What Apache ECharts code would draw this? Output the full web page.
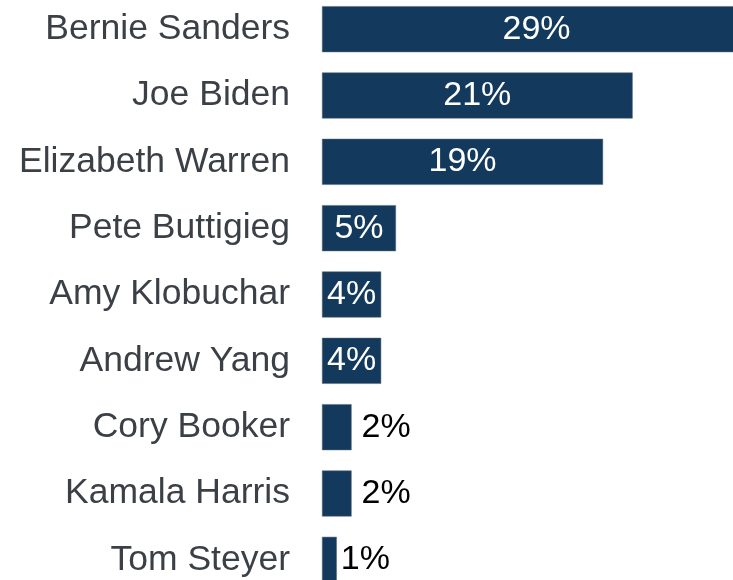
<!DOCTYPE html>
<html>
<head>
<meta charset="utf-8">
<script src="https://cdn.jsdelivr.net/npm/echarts@6/dist/echarts.min.js"></script>
<style>
  html, body { margin: 0; padding: 0; background: #fff; }
  #chart { width: 733px; height: 580px; }
</style>
</head>
<body>
<div id="chart"></div>
<script>
const candidates = ['Bernie Sanders', 'Joe Biden', 'Elizabeth Warren', 'Pete Buttigieg', 'Amy Klobuchar', 'Andrew Yang', 'Cory Booker', 'Kamala Harris', 'Tom Steyer'];
const support = [29, 21, 19, 5, 4, 4, 2, 2, 1];

const barColor = '#133a5d';
const font = 'Liberation Sans, Arial, sans-serif';

const chart = echarts.init(document.getElementById('chart'));

// plot area runs past the right/bottom edges, so the top bar gets clipped like the original
chart.setOption({
  backgroundColor: '#fff',
  animation: false,
  grid: { left: 322, top: -4, width: 429, height: 597, outerBoundsMode: 'none', containLabel: false },
  xAxis: {
    type: 'value',
    min: 0,
    max: 29,
    show: false
  },
  yAxis: {
    type: 'category',
    inverse: true,
    data: candidates,
    axisLine: { show: false },
    axisTick: { show: false },
    splitLine: { show: false },
    axisLabel: {
      margin: 32,
      fontSize: 35.5,
      fontFamily: font,
      color: '#3b3f46'
    }
  },
  series: [{
    type: 'bar',
    barWidth: 46,
    itemStyle: { color: barColor, borderColor: '#5a6672', borderWidth: 0.5 },
    data: support.map(v => ({
      value: v,
      label: v >= 4
        ? { show: true, position: 'inside', color: '#fff' }
        : { show: true, position: 'right', color: '#000', distance: v > 1 ? 10 : 4 }
    })),
    label: {
      formatter: '{c}%',
      fontSize: 34,
      fontFamily: font
    }
  }]
});
</script>
</body>
</html>
